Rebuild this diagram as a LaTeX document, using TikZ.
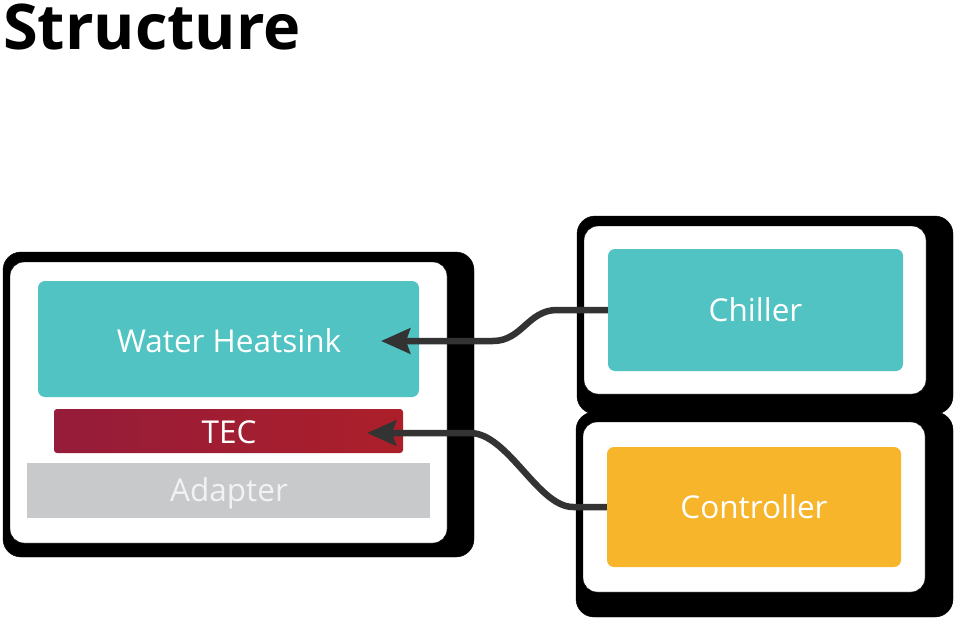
\documentclass[tikz,border=0pt]{standalone}
\usepackage{fontspec}
\setmainfont{Open Sans}
\usetikzlibrary{arrows.meta}
\definecolor{teal}{HTML}{52C3C3}
\definecolor{gold}{HTML}{F7B52C}
\definecolor{tecl}{HTML}{951C3A}
\definecolor{tecr}{HTML}{AC1F2A}
\definecolor{adap}{HTML}{C8C9CB}
\definecolor{wire}{HTML}{333333}
\tikzset{
  shadowbox/.style={fill=black, rounded corners=18pt},
  whitebox/.style={fill=white, rounded corners=14pt},
  part/.style={rounded corners=7pt, text=white, font=\fontsize{31.5}{31.5}\selectfont},
  wirearrow/.style={draw=wire, line width=6.5pt, -{Stealth[length=29pt,width=25pt,inset=4pt]}},
}
\begin{document}
\begin{tikzpicture}[x=1pt,y=-1pt]
\useasboundingbox (0,0) rectangle (954,618);
\node[anchor=base west, inner sep=0pt, font=\fontsize{63}{63}\bfseries\selectfont] (title) at (3,50) {Structure};
% left group
\draw[shadowbox] (3,252) rectangle (474,557);
\draw[whitebox] (10,262) rectangle (447,543);
\path[part, fill=teal] (38,281) rectangle (419,397);
\node[part] (hs) at (229,341) {Water Heatsink};
\path[left color=tecl, right color=tecr, rounded corners=3pt] (54,409) rectangle (403,453);
\node[part] (tec) at (229,432) {TEC};
\path[fill=adap] (27,463) rectangle (430,518);
\node[part, text=white!95!black] (adp) at (229,493) {Adapter};
% right groups
\draw[shadowbox] (577,216) rectangle (953,414);
\draw[shadowbox] (576,412) rectangle (953,617);
\draw[whitebox] (584,226) rectangle (926,394);
\draw[whitebox] (583,422) rectangle (925,592);
\node[part, fill=teal, minimum width=295pt, minimum height=122pt] (chiller) at (755.5,310) {Chiller};
\node[part, fill=gold, minimum width=294pt, minimum height=120pt] (ctrl) at (754,507) {Controller};
% connectors
\coordinate (hsin) at (381,341);
\coordinate (tecin) at (367,433);
\draw[wirearrow] (chiller.west) -- (557,310) .. controls (528,310) and (522,341) .. (493,341) -- (hsin);
\draw[wirearrow] (ctrl.west) -- (573,507) .. controls (538,507) and (508,433) .. (470,433) -- (tecin);
\end{tikzpicture}
\end{document}
